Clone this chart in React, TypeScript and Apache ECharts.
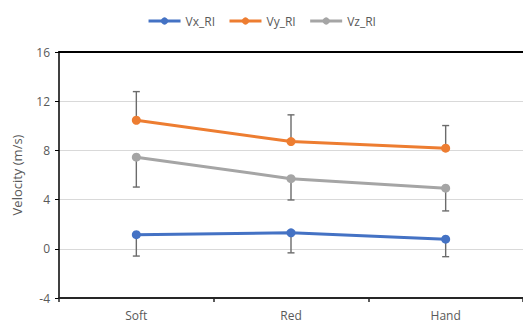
import React, { useEffect, useRef } from "react";
import * as echarts from "echarts";

const categories = ["Soft", "Red", "Hand"];
const vx = [1.15, 1.3, 0.78];
const vy = [10.45, 8.72, 8.18];
const vz = [7.45, 5.7, 4.93];
// one-sided error bars (end values implied by magnitude and direction)
const vxErrMinus = [1.74, 1.63, 1.42];
const vyErrPlus = [2.33, 2.17, 1.84];
const vzErrMinus = [2.43, 1.73, 1.85];
const yTicks = { min: -4, max: 16, interval: 4 };

const FONT = "'Open Sans', 'Noto Sans', sans-serif";

function errSeries(values: number[], errs: number[], dir: number) {
  const data = values.map((v, i) => [i, v, v + dir * errs[i]]);
  return {
    type: "custom",
    silent: true,
    z: 1,
    data,
    renderItem: (params: any, api: any) => {
      const x = api.value(0);
      const p1 = api.coord([x, api.value(1)]);
      const p2 = api.coord([x, api.value(2)]);
      const cap = 3.5;
      const style = { stroke: "#6b6b6b", lineWidth: 1.4 };
      return {
        type: "group",
        children: [
          { type: "line", shape: { x1: p1[0], y1: p1[1], x2: p2[0], y2: p2[1] }, style },
          { type: "line", shape: { x1: p2[0] - cap, y1: p2[1], x2: p2[0] + cap, y2: p2[1] }, style },
        ],
      };
    },
  };
}

export default function App() {
  const ref = useRef<HTMLDivElement>(null);
  useEffect(() => {
    const chart = echarts.init(ref.current!, null, { renderer: "svg" });
    const lineS = (name: string, data: number[], color: string) => ({
      name,
      type: "line",
      data,
      z: 3,
      symbol: "circle",
      symbolSize: 9,
      itemStyle: { color },
      lineStyle: { color, width: 3 },
    });
    chart.setOption({
      animation: false,
      textStyle: { fontFamily: FONT },
      legend: {
        top: 10,
        left: "center",
        itemWidth: 32,
        itemHeight: 9,
        itemGap: 13,
        lineStyle: { width: 3 },
        textStyle: { color: "#595959", fontSize: 12, fontFamily: FONT },
        data: ["Vx_RI", "Vy_RI", "Vz_RI"],
      },
      grid: { left: 59, right: -5, top: 52, bottom: 24, containLabel: false },
      xAxis: [
        {
          type: "category",
          data: categories,
          boundaryGap: true,
          axisLine: { onZero: false, lineStyle: { color: "#262626", width: 2 } },
          axisTick: { show: true, length: 4, lineStyle: { color: "#262626", width: 1.5 } },
          axisLabel: { color: "#595959", fontSize: 12, margin: 11, fontFamily: FONT },
        },
        {
          type: "category",
          data: categories,
          position: "top",
          axisLine: { onZero: false, lineStyle: { color: "#000", width: 2 } },
          axisTick: { show: false },
          axisLabel: { show: false },
        },
      ],
      yAxis: {
        type: "value",
        min: yTicks.min,
        max: yTicks.max,
        interval: yTicks.interval,
        name: "Velocity (m/s)",
        nameLocation: "middle",
        nameGap: 36,
        nameTextStyle: { color: "#595959", fontSize: 13, fontFamily: FONT },
        axisLine: { show: true, onZero: false, lineStyle: { color: "#000", width: 1.5 } },
        axisTick: { show: true, length: 4, lineStyle: { color: "#000", width: 1 } },
        axisLabel: { color: "#595959", fontSize: 12, margin: 9, fontFamily: FONT },
        splitLine: { show: true, lineStyle: { color: "#d9d9d9", width: 1 } },
      },
      series: [
        errSeries(vx, vxErrMinus, -1),
        errSeries(vy, vyErrPlus, 1),
        errSeries(vz, vzErrMinus, -1),
        lineS("Vx_RI", vx, "#4472C4"),
        lineS("Vy_RI", vy, "#ED7D31"),
        lineS("Vz_RI", vz, "#A5A5A5"),
      ],
    });
    return () => chart.dispose();
  }, []);
  return <div ref={ref} style={{ width: 523, height: 322, position: "absolute", left: 0, top: 0 }} />;
}
